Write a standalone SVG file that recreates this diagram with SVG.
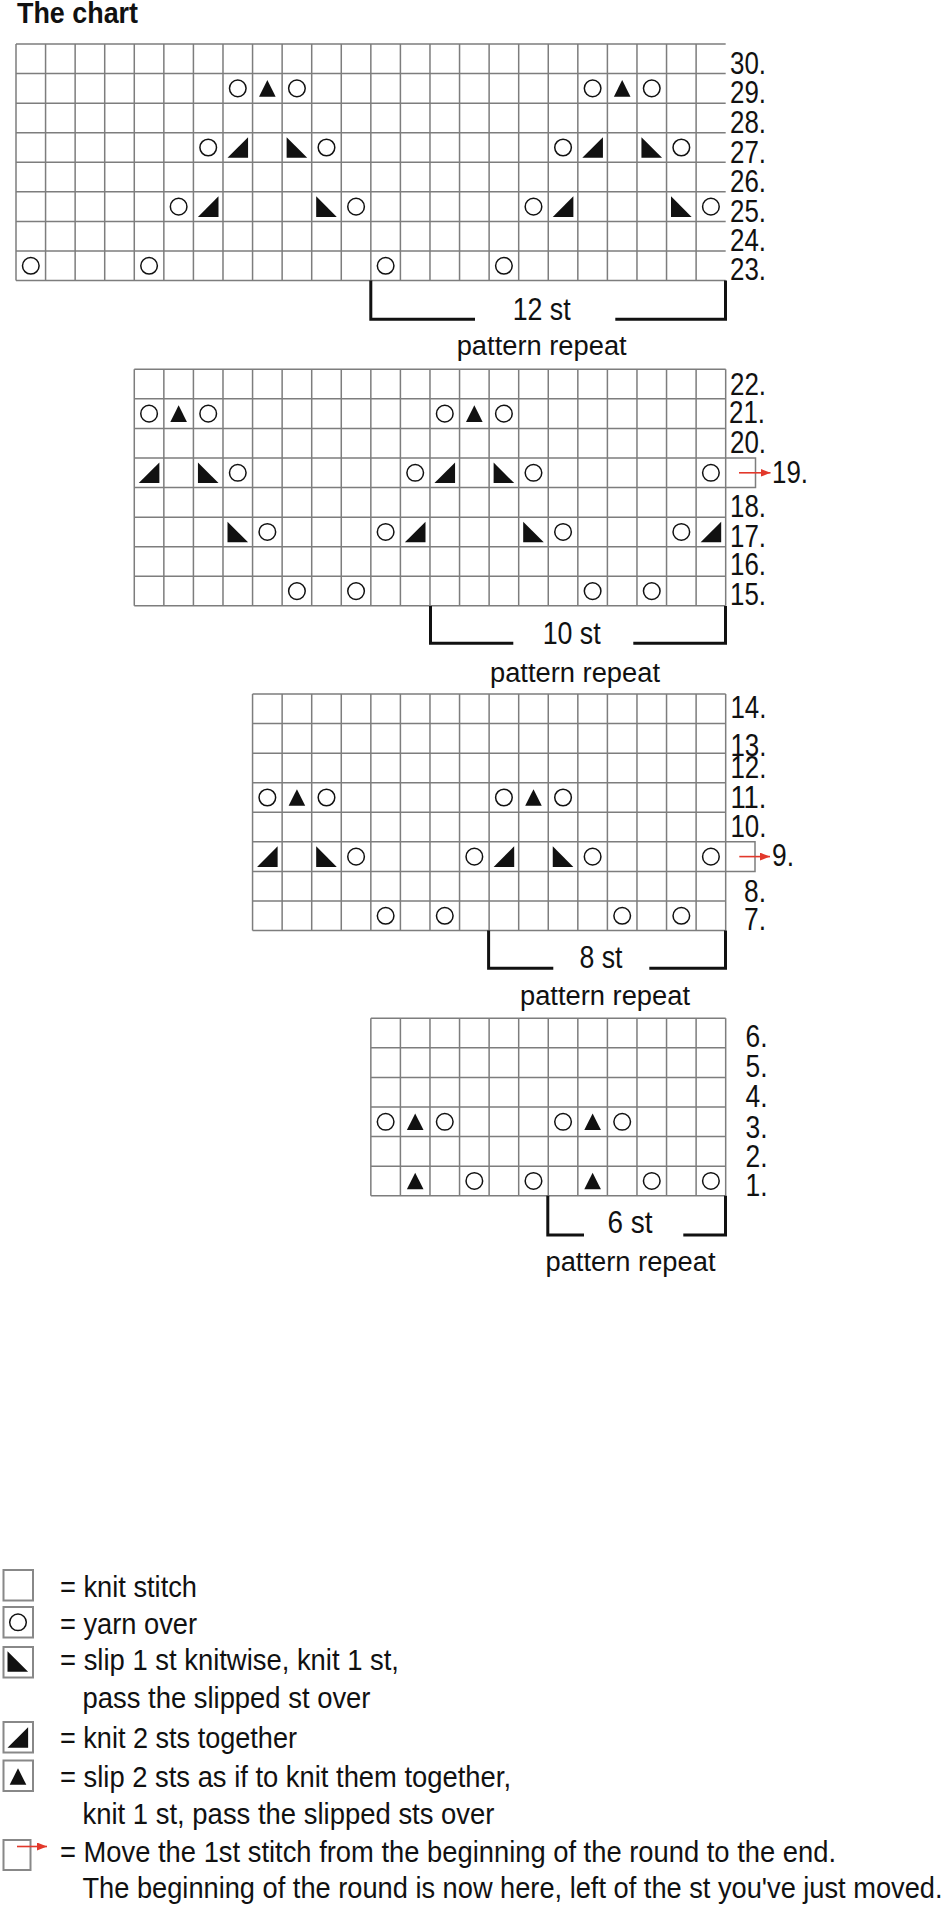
<svg xmlns="http://www.w3.org/2000/svg" xmlns:xlink="http://www.w3.org/1999/xlink" width="944" height="1907" viewBox="0 0 944 1907">
<style>
.grid{fill:none;stroke:#7d7d7d;stroke-width:1.5}
.rl{font-family:"Liberation Sans",Arial,sans-serif;font-size:31px;fill:#111}
.br{fill:none;stroke:#111;stroke-width:3;stroke-linecap:butt}
.st{font-family:"Liberation Sans",Arial,sans-serif;font-size:31px;fill:#111;text-anchor:middle}
.pr{font-family:"Liberation Sans",Arial,sans-serif;font-size:27px;fill:#111;text-anchor:middle}
.lg{font-family:"Liberation Sans",Arial,sans-serif;font-size:30px;fill:#111}
.box{fill:#fff;stroke:#888;stroke-width:2}
.arr{fill:none;stroke:#e2382b;stroke-width:1.6}
</style>
<defs>
<circle id="yo" r="8.3" fill="none" stroke="#111" stroke-width="1.5"/>
<path id="k2" d="M-10.3,10.3L10.3,-10.3V10.3Z" fill="#111"/>
<path id="sk" d="M-10.3,-10.3V10.3H10.3Z" fill="#111"/>
<path id="tri" d="M0,-8.3L8.3,8.3H-8.3Z" fill="#111"/>
<marker id="ah" markerWidth="10" markerHeight="8" refX="10" refY="4" orient="auto" markerUnits="userSpaceOnUse"><path d="M0,0L10,4L0,8Z" fill="#e2382b"/></marker>
</defs>
<rect width="944" height="1907" fill="#fff"/>
<text x="17" y="23.3" font-family="Liberation Sans,Arial,sans-serif" font-weight="bold" font-size="30" fill="#111" textLength="121" lengthAdjust="spacingAndGlyphs">The chart</text>

<g id="chart-rows-23-30">
<path class="grid" d="M16,44v236.56m29.57,-236.56v236.56m29.57,-236.56v236.56m29.57,-236.56v236.56m29.57,-236.56v236.56m29.57,-236.56v236.56m29.57,-236.56v236.56m29.57,-236.56v236.56m29.57,-236.56v236.56m29.57,-236.56v236.56m29.57,-236.56v236.56m29.57,-236.56v236.56m29.57,-236.56v236.56m29.57,-236.56v236.56m29.57,-236.56v236.56m29.57,-236.56v236.56m29.57,-236.56v236.56m29.57,-236.56v236.56m29.57,-236.56v236.56m29.57,-236.56v236.56m29.57,-236.56v236.56m29.57,-236.56v236.56m29.57,-236.56v236.56m29.57,-236.56v236.56M16,44h709.68m-709.68,29.57h709.68m-709.68,29.57h709.68m-709.68,29.57h709.68m-709.68,29.57h709.68m-709.68,29.57h709.68m-709.68,29.57h709.68m-709.68,29.57h709.68m-709.68,29.57h709.68"/>
<use href="#yo" x="237.78" y="88.36"/><use href="#tri" x="267.35" y="88.36"/><use href="#yo" x="296.92" y="88.36"/><use href="#yo" x="592.62" y="88.36"/><use href="#tri" x="622.19" y="88.36"/><use href="#yo" x="651.76" y="88.36"/>
<use href="#yo" x="208.21" y="147.5"/><use href="#k2" x="237.78" y="147.5"/><use href="#sk" x="296.92" y="147.5"/><use href="#yo" x="326.49" y="147.5"/><use href="#yo" x="563.05" y="147.5"/><use href="#k2" x="592.62" y="147.5"/><use href="#sk" x="651.76" y="147.5"/><use href="#yo" x="681.33" y="147.5"/>
<use href="#yo" x="178.64" y="206.64"/><use href="#k2" x="208.21" y="206.64"/><use href="#sk" x="326.49" y="206.64"/><use href="#yo" x="356.06" y="206.64"/><use href="#yo" x="533.48" y="206.64"/><use href="#k2" x="563.05" y="206.64"/><use href="#sk" x="681.33" y="206.64"/><use href="#yo" x="710.9" y="206.64"/>
<use href="#yo" x="30.79" y="265.78"/><use href="#yo" x="149.07" y="265.78"/><use href="#yo" x="385.63" y="265.78"/><use href="#yo" x="503.91" y="265.78"/>
<text class="rl" x="730" y="74" textLength="36" lengthAdjust="spacingAndGlyphs">30.</text>
<text class="rl" x="730" y="103.3" textLength="36" lengthAdjust="spacingAndGlyphs">29.</text>
<text class="rl" x="730" y="133.3" textLength="36" lengthAdjust="spacingAndGlyphs">28.</text>
<text class="rl" x="730" y="162.7" textLength="36" lengthAdjust="spacingAndGlyphs">27.</text>
<text class="rl" x="730" y="192.3" textLength="36" lengthAdjust="spacingAndGlyphs">26.</text>
<text class="rl" x="730" y="221.7" textLength="36" lengthAdjust="spacingAndGlyphs">25.</text>
<text class="rl" x="730" y="250.7" textLength="36" lengthAdjust="spacingAndGlyphs">24.</text>
<text class="rl" x="730" y="280" textLength="36" lengthAdjust="spacingAndGlyphs">23.</text>
<text class="st" x="541.7" y="320" textLength="58" lengthAdjust="spacingAndGlyphs">12 st</text>
<text class="pr" x="541.7" y="355" textLength="170" lengthAdjust="spacingAndGlyphs">pattern repeat</text>
</g>

<g id="chart-rows-15-22">
<path class="grid" d="M134.28,369.3v236.56m29.57,-236.56v236.56m29.57,-236.56v236.56m29.57,-236.56v236.56m29.57,-236.56v236.56m29.57,-236.56v236.56m29.57,-236.56v236.56m29.57,-236.56v236.56m29.57,-236.56v236.56m29.57,-236.56v236.56m29.57,-236.56v236.56m29.57,-236.56v236.56m29.57,-236.56v236.56m29.57,-236.56v236.56m29.57,-236.56v236.56m29.57,-236.56v236.56m29.57,-236.56v236.56m29.57,-236.56v236.56m29.57,-236.56v236.56m29.57,-236.56v236.56m29.57,-236.56v236.56M134.28,369.3h591.4m-591.4,29.57h591.4m-591.4,29.57h591.4m-591.4,29.57h591.4m-591.4,29.57h591.4m-591.4,29.57h591.4m-591.4,29.57h591.4m-591.4,29.57h591.4m-591.4,29.57h591.4M725.68,458.01H755.5V487.58H725.68"/>
<use href="#yo" x="149.07" y="413.66"/><use href="#tri" x="178.64" y="413.66"/><use href="#yo" x="208.21" y="413.66"/><use href="#yo" x="444.77" y="413.66"/><use href="#tri" x="474.34" y="413.66"/><use href="#yo" x="503.91" y="413.66"/>
<use href="#k2" x="149.07" y="472.8"/><use href="#sk" x="208.21" y="472.8"/><use href="#yo" x="237.78" y="472.8"/><use href="#yo" x="415.2" y="472.8"/><use href="#k2" x="444.77" y="472.8"/><use href="#sk" x="503.91" y="472.8"/><use href="#yo" x="533.48" y="472.8"/><use href="#yo" x="710.9" y="472.8"/>
<use href="#sk" x="237.78" y="531.94"/><use href="#yo" x="267.35" y="531.94"/><use href="#yo" x="385.63" y="531.94"/><use href="#k2" x="415.2" y="531.94"/><use href="#sk" x="533.48" y="531.94"/><use href="#yo" x="563.05" y="531.94"/><use href="#yo" x="681.33" y="531.94"/><use href="#k2" x="710.9" y="531.94"/>
<use href="#yo" x="296.92" y="591.08"/><use href="#yo" x="356.06" y="591.08"/><use href="#yo" x="592.62" y="591.08"/><use href="#yo" x="651.76" y="591.08"/>
<text class="rl" x="730" y="395" textLength="36" lengthAdjust="spacingAndGlyphs">22.</text>
<text class="rl" x="729" y="423.3" textLength="36" lengthAdjust="spacingAndGlyphs">21.</text>
<text class="rl" x="730" y="452.7" textLength="36" lengthAdjust="spacingAndGlyphs">20.</text>
<text class="rl" x="772" y="483.3" textLength="36" lengthAdjust="spacingAndGlyphs">19.</text>
<text class="rl" x="730" y="516.7" textLength="36" lengthAdjust="spacingAndGlyphs">18.</text>
<text class="rl" x="730" y="546.7" textLength="36" lengthAdjust="spacingAndGlyphs">17.</text>
<text class="rl" x="730" y="575" textLength="36" lengthAdjust="spacingAndGlyphs">16.</text>
<text class="rl" x="730" y="605" textLength="36" lengthAdjust="spacingAndGlyphs">15.</text>
<text class="st" x="571.7" y="644" textLength="58" lengthAdjust="spacingAndGlyphs">10 st</text>
<text class="pr" x="575" y="681.7" textLength="170" lengthAdjust="spacingAndGlyphs">pattern repeat</text>
</g>

<g id="chart-rows-7-14">
<path class="grid" d="M252.56,694v236.56m29.57,-236.56v236.56m29.57,-236.56v236.56m29.57,-236.56v236.56m29.57,-236.56v236.56m29.57,-236.56v236.56m29.57,-236.56v236.56m29.57,-236.56v236.56m29.57,-236.56v236.56m29.57,-236.56v236.56m29.57,-236.56v236.56m29.57,-236.56v236.56m29.57,-236.56v236.56m29.57,-236.56v236.56m29.57,-236.56v236.56m29.57,-236.56v236.56m29.57,-236.56v236.56M252.56,694h473.12m-473.12,29.57h473.12m-473.12,29.57h473.12m-473.12,29.57h473.12m-473.12,29.57h473.12m-473.12,29.57h473.12m-473.12,29.57h473.12m-473.12,29.57h473.12m-473.12,29.57h473.12M725.68,841.85H755V871.42H725.68"/>
<use href="#yo" x="267.35" y="797.5"/><use href="#tri" x="296.92" y="797.5"/><use href="#yo" x="326.49" y="797.5"/><use href="#yo" x="503.91" y="797.5"/><use href="#tri" x="533.48" y="797.5"/><use href="#yo" x="563.05" y="797.5"/>
<use href="#k2" x="267.35" y="856.64"/><use href="#sk" x="326.49" y="856.64"/><use href="#yo" x="356.06" y="856.64"/><use href="#yo" x="474.34" y="856.64"/><use href="#k2" x="503.91" y="856.64"/><use href="#sk" x="563.05" y="856.64"/><use href="#yo" x="592.62" y="856.64"/><use href="#yo" x="710.9" y="856.64"/>
<use href="#yo" x="385.63" y="915.78"/><use href="#yo" x="444.77" y="915.78"/><use href="#yo" x="622.19" y="915.78"/><use href="#yo" x="681.33" y="915.78"/>
<text class="rl" x="730.4" y="718.3" textLength="36" lengthAdjust="spacingAndGlyphs">14.</text>
<text class="rl" x="730.4" y="756" textLength="36" lengthAdjust="spacingAndGlyphs">13.</text>
<text class="rl" x="730.4" y="777.7" textLength="36" lengthAdjust="spacingAndGlyphs">12.</text>
<text class="rl" x="730.4" y="808.3" textLength="36" lengthAdjust="spacingAndGlyphs">11.</text>
<text class="rl" x="730.4" y="836.7" textLength="36" lengthAdjust="spacingAndGlyphs">10.</text>
<text class="rl" x="772" y="866" textLength="22" lengthAdjust="spacingAndGlyphs">9.</text>
<text class="rl" x="744" y="901.7" textLength="22" lengthAdjust="spacingAndGlyphs">8.</text>
<text class="rl" x="744" y="930" textLength="22" lengthAdjust="spacingAndGlyphs">7.</text>
<text class="st" x="601" y="968.3" textLength="43" lengthAdjust="spacingAndGlyphs">8 st</text>
<text class="pr" x="605" y="1005" textLength="170" lengthAdjust="spacingAndGlyphs">pattern repeat</text>
</g>

<g id="chart-rows-1-6">
<path class="grid" d="M370.84,1018.3v177.42m29.57,-177.42v177.42m29.57,-177.42v177.42m29.57,-177.42v177.42m29.57,-177.42v177.42m29.57,-177.42v177.42m29.57,-177.42v177.42m29.57,-177.42v177.42m29.57,-177.42v177.42m29.57,-177.42v177.42m29.57,-177.42v177.42m29.57,-177.42v177.42m29.57,-177.42v177.42M370.84,1018.3h354.84m-354.84,29.57h354.84m-354.84,29.57h354.84m-354.84,29.57h354.84m-354.84,29.57h354.84m-354.84,29.57h354.84m-354.84,29.57h354.84"/>
<use href="#yo" x="385.63" y="1121.8"/><use href="#tri" x="415.2" y="1121.8"/><use href="#yo" x="444.77" y="1121.8"/><use href="#yo" x="563.05" y="1121.8"/><use href="#tri" x="592.62" y="1121.8"/><use href="#yo" x="622.19" y="1121.8"/>
<use href="#tri" x="415.2" y="1180.94"/><use href="#yo" x="474.34" y="1180.94"/><use href="#yo" x="533.48" y="1180.94"/><use href="#tri" x="592.62" y="1180.94"/><use href="#yo" x="651.76" y="1180.94"/><use href="#yo" x="710.9" y="1180.94"/>
<text class="rl" x="745.5" y="1046.7" textLength="22" lengthAdjust="spacingAndGlyphs">6.</text>
<text class="rl" x="745.5" y="1077.3" textLength="22" lengthAdjust="spacingAndGlyphs">5.</text>
<text class="rl" x="745.5" y="1107.3" textLength="22" lengthAdjust="spacingAndGlyphs">4.</text>
<text class="rl" x="745.5" y="1137.7" textLength="22" lengthAdjust="spacingAndGlyphs">3.</text>
<text class="rl" x="745.5" y="1166.7" textLength="22" lengthAdjust="spacingAndGlyphs">2.</text>
<text class="rl" x="745.5" y="1196" textLength="22" lengthAdjust="spacingAndGlyphs">1.</text>
<text class="st" x="630" y="1233.3" textLength="45" lengthAdjust="spacingAndGlyphs">6 st</text>
<text class="pr" x="630.5" y="1270.7" textLength="170" lengthAdjust="spacingAndGlyphs">pattern repeat</text>
</g>

<g id="connectors">
<path class="br" d="M370.8,280.6V319.3H475M615.3,319.3H725.5V280.6"/>
<path class="br" d="M430.5,605.9V643.3H513.3M633.3,643.3H725.5V605.9"/>
<path class="br" d="M488.6,930.6V968.3H553.3M649.3,968.3H725.5V930.6"/>
<path class="br" d="M547.8,1195.7V1235H584M683.3,1235H725.5V1195.7"/>
<path class="arr" d="M739,472.8H770.5" marker-end="url(#ah)"/>
<path class="arr" d="M739.3,856.6H770" marker-end="url(#ah)"/>
</g>

<g id="legend">
<rect class="box" x="3.5" y="1570" width="29.5" height="30.5"/>
<text class="lg" x="60" y="1597.3" textLength="137" lengthAdjust="spacingAndGlyphs">= knit stitch</text>
<rect class="box" x="3.5" y="1607" width="29.5" height="30.5"/>
<use href="#yo" x="18" y="1622.3"/>
<text class="lg" x="60" y="1634" textLength="137" lengthAdjust="spacingAndGlyphs">= yarn over</text>
<rect class="box" x="3.5" y="1647" width="29.5" height="30.5"/>
<use href="#sk" x="17.8" y="1661.5"/>
<text class="lg" x="60" y="1670" textLength="339" lengthAdjust="spacingAndGlyphs">= slip 1 st knitwise, knit 1 st,</text>
<text class="lg" x="82.5" y="1708.3" textLength="288" lengthAdjust="spacingAndGlyphs">pass the slipped st over</text>
<rect class="box" x="3.5" y="1722" width="29.5" height="30.5"/>
<use href="#k2" x="17.8" y="1737.5"/>
<text class="lg" x="60" y="1748.3" textLength="237" lengthAdjust="spacingAndGlyphs">= knit 2 sts together</text>
<rect class="box" x="3.5" y="1760.5" width="29.5" height="30.5"/>
<use href="#tri" x="18" y="1776.5"/>
<text class="lg" x="60" y="1786.5" textLength="451" lengthAdjust="spacingAndGlyphs">= slip 2 sts as if to knit them together,</text>
<text class="lg" x="82.5" y="1824" textLength="412" lengthAdjust="spacingAndGlyphs">knit 1 st, pass the slipped sts over</text>
<rect class="box" x="3.5" y="1840" width="27" height="30"/>
<path class="arr" d="M17,1846.5H47" marker-end="url(#ah)"/>
<text class="lg" x="60" y="1861.7" textLength="776" lengthAdjust="spacingAndGlyphs">= Move the 1st stitch from the beginning of the round to the end.</text>
<text class="lg" x="82.5" y="1898" textLength="860" lengthAdjust="spacingAndGlyphs">The beginning of the round is now here, left of the st you've just moved.</text>
</g>
</svg>
